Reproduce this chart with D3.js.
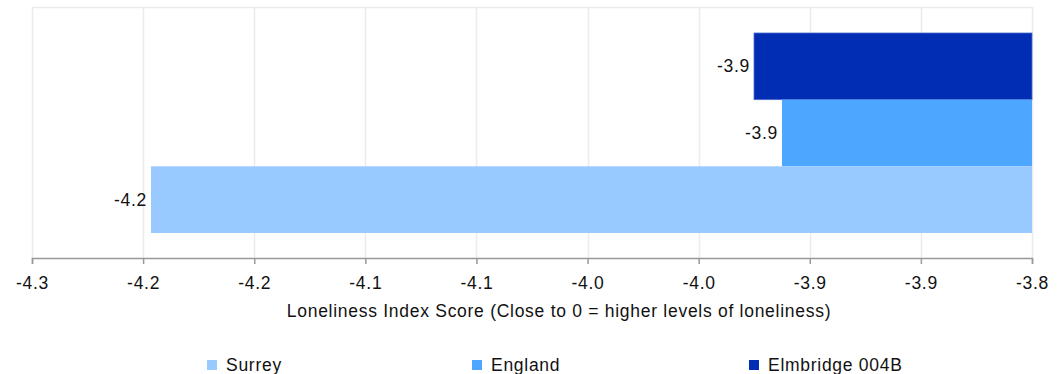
<!DOCTYPE html>
<html>
<head>
<meta charset="utf-8">
<script src="https://cdn.jsdelivr.net/npm/d3@7"></script>
<style>
  html, body { margin: 0; padding: 0; background: #fff; }
  svg { display: block; font-family: "Liberation Sans", Arial, sans-serif; }
  text { letter-spacing: 0.72px; }
</style>
</head>
<body>
<svg id="chart" width="1059" height="374"></svg>
<script>
// ---- data ----
const categories = ["Elmbridge 004B", "England", "Surrey"];
const values = [-3.939, -3.925, -4.2405];
const colors = ["#002db3", "#4da6ff", "#99caff"];
const legendOrder = ["Surrey", "England", "Elmbridge 004B"];
const tickLabels = ["-4.3", "-4.2", "-4.2", "-4.1", "-4.1", "-4.0", "-4.0", "-3.9", "-3.9", "-3.8"];
const domainMin = -4.3, domainMax = -3.8;
const axisTitle = "Loneliness Index Score (Close to 0 = higher levels of loneliness)";

// ---- layout ----
const mLeft = 32, mRight = 1032, mTop = 8, mBottom = 258;
const fontSize = 17.5;
const svg = d3.select("#chart");

const x = d3.scaleLinear().domain([domainMin, domainMax]).range([mLeft, mRight]);
const y = d3.scaleBand().domain(categories).range([mTop, mBottom]).paddingInner(0).paddingOuter(0.375);
const color = d3.scaleOrdinal().domain(categories).range(colors);

const tickValues = tickLabels.map((_, i) => domainMin + i * (domainMax - domainMin) / (tickLabels.length - 1));
const fmt = v => d3.format(".1f")(v).replace("\u2212", "-");

// gridlines
svg.append("g").selectAll("line").data(tickValues).join("line")
  .attr("x1", d => Math.round(x(d)) + 0.5).attr("x2", d => Math.round(x(d)) + 0.5)
  .attr("y1", mTop - 1).attr("y2", mBottom)
  .attr("stroke", "#ebebeb").attr("stroke-width", 1.5);
svg.append("line")
  .attr("x1", mLeft).attr("x2", mRight + 1).attr("y1", mTop - 0.5).attr("y2", mTop - 0.5)
  .attr("stroke", "#ebebeb").attr("stroke-width", 1.5);

// bars
const data = categories.map((c, i) => ({ c, v: values[i] }));
svg.append("g").selectAll("rect").data(data).join("rect")
  .attr("x", d => x(d.v))
  .attr("width", d => x(domainMax) - x(d.v))
  .attr("y", d => y(d.c))
  .attr("height", y.bandwidth())
  .attr("fill", d => color(d.c))
  .attr("stroke", d => d.c === "Elmbridge 004B" ? "#4c6ccc" : "none")
  .attr("stroke-width", 0.8);

// value labels
svg.append("g").selectAll("text").data(data).join("text")
  .attr("x", d => x(d.v) - 4)
  .attr("y", d => y(d.c) + y.bandwidth() / 2)
  .attr("dy", "0.35em")
  .attr("text-anchor", "end")
  .attr("font-size", fontSize)
  .attr("fill", "#111")
  .text(d => fmt(d.v));

// axis
const axis = d3.axisBottom(x).tickValues(tickValues).tickSize(6).tickPadding(13)
  .tickFormat((d, i) => tickLabels[i]);
const ax = svg.append("g").attr("transform", `translate(0,${mBottom})`).call(axis);
ax.select(".domain").attr("stroke", "#999").attr("stroke-width", 1.5);
ax.selectAll(".tick line").attr("stroke", "#999").attr("stroke-width", 1.5);
ax.selectAll(".tick text").attr("font-size", fontSize).attr("fill", "#111")
  .attr("font-family", "Liberation Sans, Arial, sans-serif");

// axis title
svg.append("text")
  .attr("x", 559)
  .attr("y", 317)
  .attr("text-anchor", "middle")
  .attr("font-size", fontSize)
  .attr("fill", "#111")
  .text(axisTitle);

// legend
const legendX = [207, 472, 749];
const lg = svg.append("g").selectAll("g").data(legendOrder).join("g")
  .attr("transform", (d, i) => `translate(${legendX[i]},365)`);
lg.append("rect").attr("x", 0).attr("y", -5).attr("width", 10).attr("height", 10)
  .attr("fill", d => color(d));
lg.append("text").attr("x", 19).attr("y", 0).attr("dy", "0.35em")
  .attr("font-size", fontSize).attr("fill", "#111").text(d => d);
</script>
</body>
</html>
